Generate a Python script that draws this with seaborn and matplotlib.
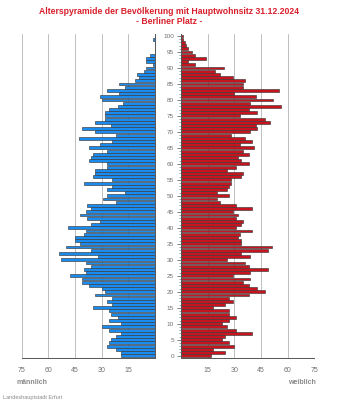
import numpy as np
import pandas as pd
import matplotlib
matplotlib.use("Agg")
import matplotlib.pyplot as plt
import seaborn as sns

sns.set_theme(style="white")
plt.rcParams['font.family'] = ['Liberation Sans', 'DejaVu Sans']

ages = list(range(0, 101))
male = [19, 19, 22, 27, 26, 25, 22, 19, 26, 30,
        19, 26, 21, 25, 26, 35, 24, 27, 24, 34,
        28, 30, 37, 41, 41, 48, 39, 40, 36, 39,
        53, 32, 54, 36, 50, 42, 45, 45, 40, 39,
        49, 36, 31, 38, 42, 39, 36, 38, 22, 29,
        27, 17, 27, 24, 40, 24, 35, 34, 34, 27,
        27, 37, 36, 35, 27, 37, 31, 24, 43, 22,
        34, 41, 25, 34, 28, 28, 28, 26, 21, 18,
        30, 31, 20, 27, 17, 20, 11, 9, 10, 6,
        5, 1, 5, 5, 3, 0, 0, 0, 0, 1,
        0]
female = [17, 25, 18, 30, 27, 23, 25, 40, 31, 26,
          23, 27, 31, 27, 27, 18, 25, 29, 27, 38,
          47, 43, 38, 35, 39, 29, 39, 49, 38, 36,
          26, 39, 34, 49, 51, 34, 34, 32, 33, 40,
          31, 34, 35, 31, 32, 29, 40, 31, 22, 20,
          27, 20, 26, 27, 28, 28, 34, 35, 26, 31,
          38, 34, 32, 38, 35, 41, 33, 40, 36, 28,
          39, 43, 42, 50, 47, 33, 43, 38, 56, 39,
          52, 42, 30, 55, 35, 35, 36, 29, 22, 19,
          24, 8, 4, 14, 8, 6, 4, 3, 2, 1,
          1]
x_ticks = [0, 15, 30, 45, 60, 75]
x_labels_left = ["", "15", "30", "45", "60", "75"]
x_labels_right = ["", "15", "30", "45", "60", "75"]
age_ticks = list(range(0, 101, 5))

title = "Alterspyramide der Bevölkerung mit Hauptwohnsitz 31.12.2024"
subtitle = "- Berliner Platz -"

df = pd.DataFrame({"age": ages, "male": male, "female": female})

W, H = 338, 405
fig = plt.figure(figsize=(W / 100, H / 100), dpi=100)
fig.patch.set_facecolor("white")

bottom = 1 - 357.6 / H
top = 1 - 34.1 / H
axL = fig.add_axes([21.7 / W, bottom, 133.3 / W, top - bottom])
axR = fig.add_axes([181.0 / W, bottom, 133.3 / W, top - bottom])

blue = "#1a8cf0"
red = "#c8141e"
edge = "#3a3a3a"
grid_c = "#b4b4b4"
txt_c = "#707070"

sns.barplot(data=df, x="male", y="age", orient="h", native_scale=True,
            color=blue, edgecolor=edge, linewidth=0.45, width=0.9,
            saturation=1, ax=axL)
sns.barplot(data=df, x="female", y="age", orient="h", native_scale=True,
            color=red, edgecolor=edge, linewidth=0.45, width=0.9,
            saturation=1, ax=axR)

for ax in (axL, axR):
    ax.set_ylim(-0.6, 100.6)
    ax.set_xlabel("")
    ax.set_ylabel("")
    ax.set_xticks(x_ticks)
    ax.set_axisbelow(True)
    ax.xaxis.grid(True, color=grid_c, linewidth=0.6)
    ax.yaxis.grid(False)
    ax.spines["top"].set_visible(False)
    ax.tick_params(axis="x", direction="inout", length=4, width=0.6,
                   color="#555555", labelsize=5, labelcolor=txt_c, pad=5)
    ax.spines["bottom"].set_color("#555555")
    ax.spines["bottom"].set_linewidth(0.7)

axL.set_xlim(75, 0)
axL.set_xticklabels(x_labels_left)
axL.set_yticks([])
axL.spines["left"].set_visible(False)
axL.spines["right"].set_color("#555555")
axL.spines["right"].set_linewidth(0.7)

axR.set_xlim(0, 75)
axR.set_xticklabels(x_labels_right)
axR.spines["right"].set_visible(False)
axR.spines["left"].set_color("#555555")
axR.spines["left"].set_linewidth(0.7)
axR.set_yticks(age_ticks)
axR.set_yticks(ages, minor=True)
axR.set_yticklabels([str(a) for a in age_ticks])
axR.tick_params(axis="y", which="major", direction="out", length=3, width=0.5,
                color="#555555", labelsize=4.6, labelcolor=txt_c, pad=2, left=True)
axR.tick_params(axis="y", which="minor", direction="out", length=1.5, width=0.4,
                color="#555555", left=True)

fig.text(0.5, 1 - 12 / H, title, ha="center", va="center",
         fontsize=6.2, fontweight="bold", color="#d81e2a")
fig.text(0.5, 1 - 21.5 / H, subtitle, ha="center", va="center",
         fontsize=6.2, fontweight="bold", color="#d81e2a")
fig.text(32 / W, 1 - 382 / H, "männlich", ha="center", va="center",
         fontsize=5, fontweight="bold", color="#8a8a8a")
fig.text(302 / W, 1 - 382 / H, "weiblich", ha="center", va="center",
         fontsize=5, fontweight="bold", color="#8a8a8a")
fig.text(3 / W, 1 - 397 / H, "Landeshauptstadt Erfurt", ha="left", va="center",
         fontsize=4, color="#8a8a8a")

fig.savefig("out.png", dpi=100, facecolor="white")
